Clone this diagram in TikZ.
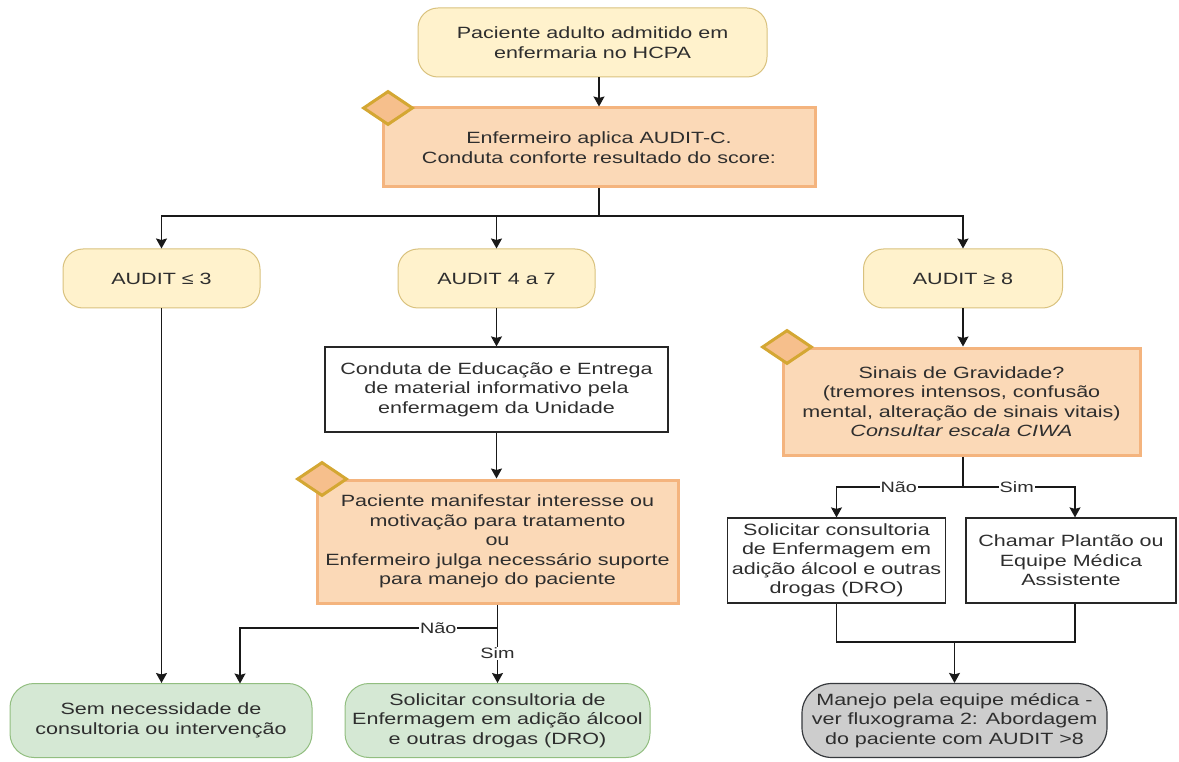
\documentclass[tikz,border=0pt]{standalone}
\usepackage{fontspec}
\setmainfont{Liberation Sans}[FakeStretch=1.32]
\usetikzlibrary{shapes.geometric,arrows.meta,calc}
\definecolor{txt}{HTML}{2E2E2E}
\definecolor{yelfill}{HTML}{FFF2CC}
\definecolor{yelline}{HTML}{D9C27E}
\definecolor{orfill}{HTML}{FBD9B7}
\definecolor{orline}{HTML}{F4B47E}
\definecolor{dmfill}{HTML}{F6BF8C}
\definecolor{dmline}{HTML}{D4A733}
\definecolor{grfill}{HTML}{D5E8D4}
\definecolor{grline}{HTML}{92BE80}
\definecolor{gyfill}{HTML}{CDCDCD}
\definecolor{gyline}{HTML}{36393D}
\tikzset{
  base/.style={align=center, inner sep=0pt, text=txt,
    font=\fontsize{16.3}{19.5}\selectfont},
  yelbox/.style={base, draw=yelline, fill=yelfill, line width=1pt, rounded corners=20pt},
  orbox/.style={base, draw=orline, fill=orfill, line width=3pt},
  whbox/.style={base, draw=black!85, fill=white, line width=1.2pt},
  grbox/.style={base, draw=grline, fill=grfill, line width=1pt, rounded corners=24pt},
  gybox/.style={base, draw=gyline, fill=gyfill, line width=1.2pt, rounded corners=30pt},
  marker/.style={diamond, draw=dmline, fill=dmfill, line width=3pt, inner sep=0pt,
    minimum width=50pt, minimum height=34pt},
  conn/.style={draw=black!90, line width=1.3pt},
  arr/.style={conn, -{Stealth[length=10pt,width=11pt,inset=1.5pt]}},
  lbl/.style={fill=white, inner sep=1pt, text=txt, font=\fontsize{15}{17}\selectfont}
}
\begin{document}
\begin{tikzpicture}[x=1pt,y=-1pt]
\useasboundingbox (0,0) rectangle (1179,762);
% nodes
\node[yelbox, minimum width=349pt, minimum height=69pt] (start) at (592.5,42.5)
  {Paciente adulto admitido em\\enfermaria no HCPA};
\node[orbox, minimum width=432pt, minimum height=79pt] (aud) at (599,147.5)
  {Enfermeiro aplica AUDIT-C.\\Conduta conforte resultado do score:};
\node[marker] (d1) at (388,108) {};
\node[yelbox, minimum width=197pt, minimum height=59pt] (a3) at (161.5,278.5) {AUDIT ≤ 3};
\node[yelbox, minimum width=197pt, minimum height=59pt] (a7) at (496.5,278.5) {AUDIT 4 a 7};
\node[yelbox, minimum width=199pt, minimum height=59pt] (a8) at (963,278.5) {AUDIT ≥ 8};
\node[whbox, minimum width=343pt, minimum height=85pt] (cond) at (496.5,389.5)
  {Conduta de Educação e Entrega\\de material informativo pela\\enfermagem da Unidade};
\node[orbox, minimum width=361pt, minimum height=123pt] (int) at (497.5,541.5)
  {Paciente manifestar interesse ou\\motivação para tratamento\\ou\\Enfermeiro julga necessário suporte\\para manejo do paciente};
\node[marker] (d2) at (322,479) {};
\node[orbox, minimum width=357pt, minimum height=107pt] (sin) at (961.5,401.5)
  {Sinais de Gravidade?\\(tremores intensos, confusão\\mental, alteração de sinais vitais)\\\textit{Consultar escala CIWA}};
\node[marker] (d3) at (787,347) {};
\node[whbox, minimum width=218pt, minimum height=85pt] (dro) at (836.5,560.5)
  {Solicitar consultoria\\de Enfermagem em\\adição álcool e outras\\drogas (DRO)};
\node[whbox, minimum width=210pt, minimum height=85pt] (cham) at (1071,560.5)
  {Chamar Plantão ou\\Equipe Médica\\Assistente};
\node[grbox, minimum width=302pt, minimum height=74pt] (g1) at (161,720.5)
  {Sem necessidade de\\consultoria ou intervenção};
\node[grbox, minimum width=305pt, minimum height=74pt] (g2) at (497.5,720.5)
  {Solicitar consultoria de\\Enfermagem em adição álcool\\e outras drogas (DRO)};
\node[gybox, minimum width=305pt, minimum height=74pt] (gy) at (954.5,720.5)
  {Manejo pela equipe médica -\\ver fluxograma 2: Abordagem\\do paciente com AUDIT >8};
% coordinates
\coordinate (br) at (599,216);
\coordinate (nb) at (497.5,628);
\coordinate (g1in) at (240,683.5);
\coordinate (sb) at (963,487);
\coordinate (jn) at (954.5,642);
% connectors
\draw[arr] (aud.north |- start.south) -- (aud.north);
\draw[conn] (aud.south) -- (br);
\draw[arr] (br) -| (a3.north);
\draw[arr] (br) -| (a7.north);
\draw[arr] (br) -| (a8.north);
\draw[arr] (a3.south) -- (a3.south |- g1.north);
\draw[arr] (a7.south) -- (a7.south |- cond.north);
\draw[arr] (cond.south) -- (cond.south |- int.north);
\draw[arr] (int.south) -- node[lbl, pos=0.625] {Sim} (g2.north);
\draw[arr] (nb) -| node[lbl, pos=0.115] {Não} (g1in);
\draw[arr] (a8.south) -- (a8.south |- sin.north);
\draw[conn] (sin.south -| sb) -- (sb);
\draw[arr] (sb) -| node[lbl, pos=0.254] {Não} (dro.north);
\draw[arr] (sb) -| node[lbl, pos=0.24] {Sim} ([xshift=4pt]cham.north);
\draw[conn] (dro.south) |- (jn);
\draw[conn] ([xshift=4pt]cham.south) |- (jn);
\draw[arr] (jn) -- (jn |- gy.north);
\end{tikzpicture}
\end{document}
